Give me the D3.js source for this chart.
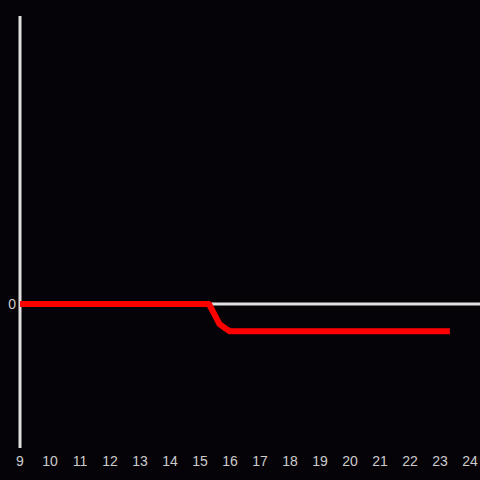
<!DOCTYPE html>
<html lang="en">
<head>
<meta charset="UTF-8">
<title>line</title>
<script src="https://cdn.jsdelivr.net/npm/d3@7"></script>
<style>
  html, body { margin: 0; padding: 0; background: #050308; }
  svg { display: block; }
</style>
</head>
<body>
<svg width="480" height="480"></svg>
<script>
// data
var hours = [9, 10, 11, 12, 13, 14, 15, 15.3, 15.65, 15.85, 16, 17, 18, 19, 20, 21, 22, 23, 23.33];
var values = [0, 0, 0, 0, 0, 0, 0, 0, -0.14, -0.17, -0.19, -0.19, -0.19, -0.19, -0.19, -0.19, -0.19, -0.19, -0.19];
var xTicks = d3.range(9, 25);
var yTicks = [0];

var svg = d3.select("svg");
var x = d3.scaleLinear().domain([9, 24]).range([20, 470]);
var y = d3.scaleLinear().domain([-1, 2]).range([448, 16]);

// vertical axis line
svg.append("line")
  .attr("x1", x(9)).attr("x2", x(9))
  .attr("y1", y(2)).attr("y2", y(-1))
  .attr("stroke", "#e0e0e0").attr("stroke-width", 3);

// zero line
svg.append("line")
  .attr("x1", x(9)).attr("x2", 480)
  .attr("y1", y(0)).attr("y2", y(0))
  .attr("stroke", "#e0e0e0").attr("stroke-width", 3);

// y labels
svg.selectAll(".ylab").data(yTicks).enter().append("text")
  .attr("x", x(9) - 4).attr("y", function(d) { return y(d); })
  .attr("dy", "0.35em").attr("text-anchor", "end")
  .attr("fill", "#cccccc").style("font", "14px 'Liberation Sans', Arial, sans-serif")
  .text(function(d) { return d; });

// x labels
svg.selectAll(".xlab").data(xTicks).enter().append("text")
  .attr("x", function(d) { return x(d); }).attr("y", 461)
  .attr("dy", "0.35em").attr("text-anchor", "middle")
  .attr("fill", "#cccccc").style("font", "14px 'Liberation Sans', Arial, sans-serif")
  .text(function(d) { return d; });

var pts = hours.map(function(h, i) { return [h, values[i]]; });
var line = d3.line().x(function(d) { return x(d[0]); }).y(function(d) { return y(d[1]); });

svg.append("path")
  .datum(pts)
  .attr("d", line)
  .attr("fill", "none")
  .attr("stroke", "#ff0000")
  .attr("stroke-width", 6)
  .attr("stroke-linejoin", "round");
</script>
</body>
</html>
